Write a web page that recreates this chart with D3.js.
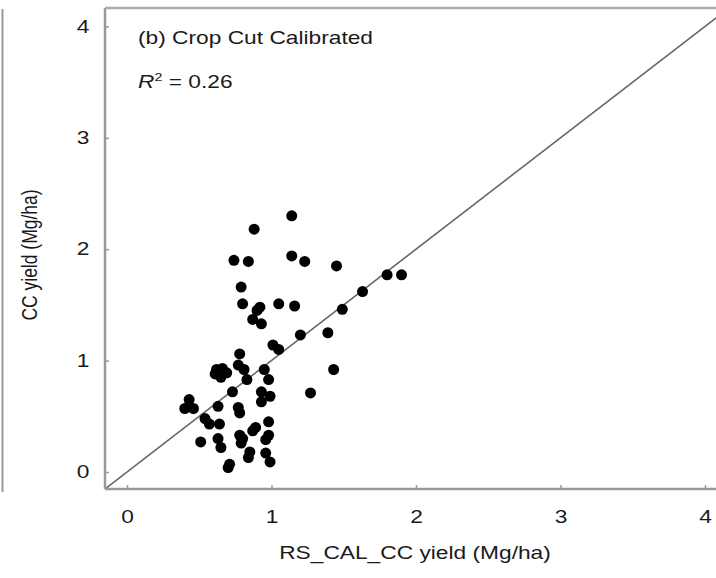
<!DOCTYPE html>
<html>
<head>
<meta charset="utf-8">
<script src="https://cdn.jsdelivr.net/npm/d3@7"></script>
<style>
  body { margin: 0; background: #fff; }
  text { font-family: "Liberation Sans", Arial, sans-serif; fill: #1a1a1a; }
</style>
</head>
<body>
<div id="chart"></div>
<script>
// values (RS_CAL_CC yield, CC yield), Mg/ha
var rsYield = [1.14, 0.88, 0.74, 0.84, 1.14, 1.23, 1.45, 0.79, 0.80, 0.92, 0.90, 1.05, 1.16,
  0.87, 0.93, 1.49, 1.63, 1.80, 1.90, 1.20, 1.39, 1.01, 1.05, 0.78, 0.77, 0.81, 0.62, 0.66,
  0.69, 0.65, 0.61, 0.83, 0.95, 0.98, 0.73, 0.93, 0.99, 0.93, 1.43, 1.27, 0.43, 0.40, 0.46,
  0.63, 0.77, 0.78, 0.54, 0.57, 0.64, 0.89, 0.87, 0.98, 0.78, 0.80, 0.79, 0.98, 0.96, 0.51,
  0.63, 0.65, 0.85, 0.84, 0.96, 0.99, 0.71, 0.70];
var ccYield = [2.30, 2.18, 1.90, 1.89, 1.94, 1.89, 1.85, 1.66, 1.51, 1.48, 1.45, 1.51, 1.49,
  1.37, 1.33, 1.46, 1.62, 1.77, 1.77, 1.23, 1.25, 1.14, 1.10, 1.06, 0.96, 0.92, 0.92, 0.93,
  0.89, 0.85, 0.88, 0.83, 0.92, 0.83, 0.72, 0.72, 0.68, 0.63, 0.92, 0.71, 0.65, 0.57, 0.57,
  0.59, 0.58, 0.53, 0.48, 0.43, 0.43, 0.40, 0.37, 0.45, 0.33, 0.30, 0.26, 0.33, 0.29, 0.27,
  0.30, 0.22, 0.18, 0.13, 0.17, 0.09, 0.07, 0.04];
var tickValues = [0, 1, 2, 3, 4];
var panelTitle = "(b) Crop Cut Calibrated";
var r2Value = "0.26";

var W = 716, H = 578;
var pLeft = 105, pRight = 716, pTop = 8, pBottom = 489;
var sx = 1.3; // the figure is stretched horizontally

var x = d3.scaleLinear().domain([0, 4]).range([127, 705]);
var y = d3.scaleLinear().domain([0, 4]).range([472, 26.4]);

var svg = d3.select("#chart").append("svg")
  .attr("width", W)
  .attr("height", H);

svg.append("clipPath").attr("id", "plotArea")
  .append("rect")
  .attr("x", pLeft).attr("y", pTop)
  .attr("width", pRight - pLeft).attr("height", pBottom - pTop);

// stray border of the neighbouring panel
svg.append("line")
  .attr("x1", 2.5).attr("x2", 2.5)
  .attr("y1", 9).attr("y2", 492)
  .attr("stroke", "#999").attr("stroke-width", 2);

// 1:1 line
svg.append("line")
  .attr("clip-path", "url(#plotArea)")
  .attr("x1", x(-1)).attr("y1", y(-1))
  .attr("x2", x(6)).attr("y2", y(6))
  .attr("stroke", "#666").attr("stroke-width", 1.6);

// points
var pts = rsYield.map(function(d, i) { return { x: d, y: ccYield[i] }; });
svg.append("g").selectAll("circle")
  .data(pts)
  .enter()
    .append("circle")
    .attr("cx", function(d) { return x(d.x); })
    .attr("cy", function(d) { return y(d.y); })
    .attr("r", 5.5)
    .attr("fill", "#000");

// axes
var xAxis = svg.append("g")
  .attr("transform", "translate(0," + pBottom + ")")
  .call(d3.axisBottom(x).tickValues(tickValues).tickSize(-4).tickPadding(22).tickFormat(d3.format("d")));
var yAxis = svg.append("g")
  .attr("transform", "translate(" + pLeft + ",0)")
  .call(d3.axisLeft(y).tickValues(tickValues).tickSize(-4).tickPadding(12).tickFormat(d3.format("d")));

[xAxis, yAxis].forEach(function(a) {
  a.select(".domain").remove();
  a.selectAll(".tick line").attr("stroke", "#999").attr("stroke-width", 1.5);
  a.selectAll(".tick text")
    .attr("fill", "#1a1a1a")
    .attr("transform", "scale(" + sx + ",1)")
    .style("font-size", "17.5px")
    .style("font-family", "'Liberation Sans', Arial, sans-serif");
});

// axis lines and top border
svg.append("line")
  .attr("x1", pLeft).attr("x2", pRight).attr("y1", pBottom).attr("y2", pBottom)
  .attr("stroke", "#999").attr("stroke-width", 2.5);
svg.append("line")
  .attr("x1", pLeft).attr("x2", pLeft).attr("y1", pTop).attr("y2", pBottom)
  .attr("stroke", "#999").attr("stroke-width", 2.5);
svg.append("line")
  .attr("x1", pLeft).attr("x2", pRight).attr("y1", pTop).attr("y2", pTop)
  .attr("stroke", "#aaa").attr("stroke-width", 2.5);

// labels
function label(tx, ty, rot) {
  return svg.append("text")
    .attr("transform", "translate(" + tx + "," + ty + ")" + (rot ? " rotate(-90) scale(1," + sx + ")" : " scale(" + sx + ",1)"))
    .style("font-size", "17.5px");
}
label(138, 44).text(panelTitle);
var r2 = label(138, 88);
r2.append("tspan").style("font-style", "italic").text("R");
r2.append("tspan").attr("dy", -7).style("font-size", "11px").text("2");
r2.append("tspan").attr("dy", 7).text(" = " + r2Value);

label(415, 559).attr("text-anchor", "middle").text("RS_CAL_CC yield (Mg/ha)");
label(37, 255, true).attr("text-anchor", "middle").text("CC yield (Mg/ha)");
</script>
</body>
</html>
